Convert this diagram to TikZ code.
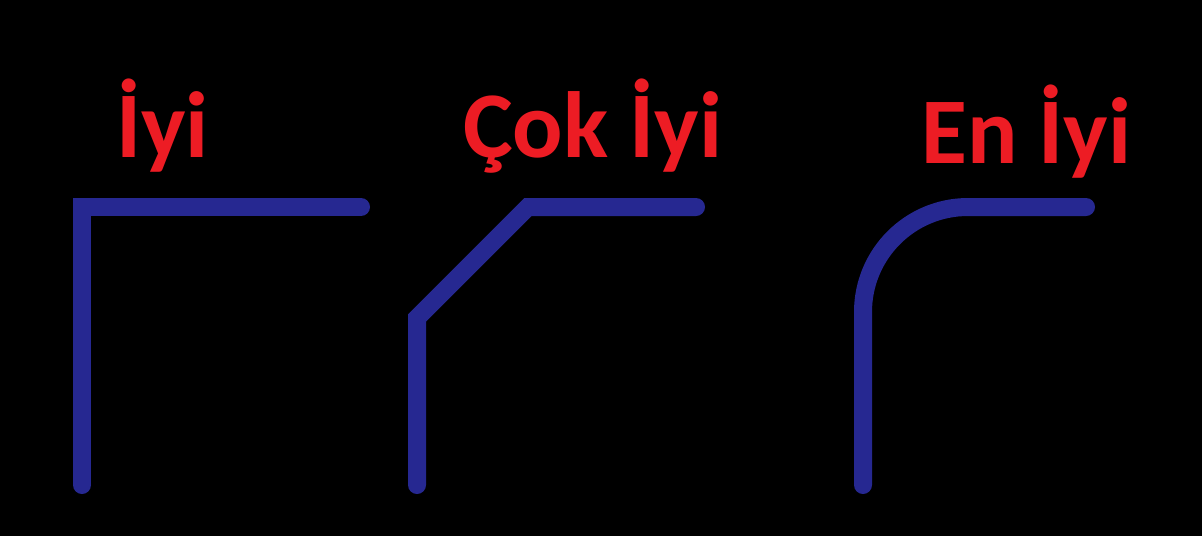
\documentclass[tikz,border=0pt]{standalone}
\usepackage{fontspec}
\setmainfont{Carlito}
\usepackage{xcolor}
\usetikzlibrary{positioning}
\definecolor{hatmavi}{RGB}{38,40,145}
\definecolor{yazikirmizi}{RGB}{237,28,36}
\tikzset{
    hat/.style={hatmavi, line width=18pt, line cap=round},
    baslik/.style={yazikirmizi, font=\bfseries\fontsize{94}{100}\selectfont, anchor=base west, inner sep=0pt}
}

\begin{document}
\begin{tikzpicture}[x=1pt,y=-1pt]
    \fill[black](0,0) rectangle (1202,536);
    \useasboundingbox (0,0) rectangle (1202,536);
    % basliklar
    \node[baslik] (iyi) at (116,157) {İyi};
    \node[baslik] (cokiyi) at (463,157) {Çok İyi};
    \node[baslik] (eniyi) at (921,163) {En İyi};
    % hatlar
    \draw[hat](82,485) -- (82,207) -- (361,207);
    \draw[hat](417,485) -- (417,318) -- (528,207) -- (696,207);
    \draw[hat, rounded corners=105pt](863,485) -- (863,207) -- (1086,207);
\end{tikzpicture}
\end{document}
